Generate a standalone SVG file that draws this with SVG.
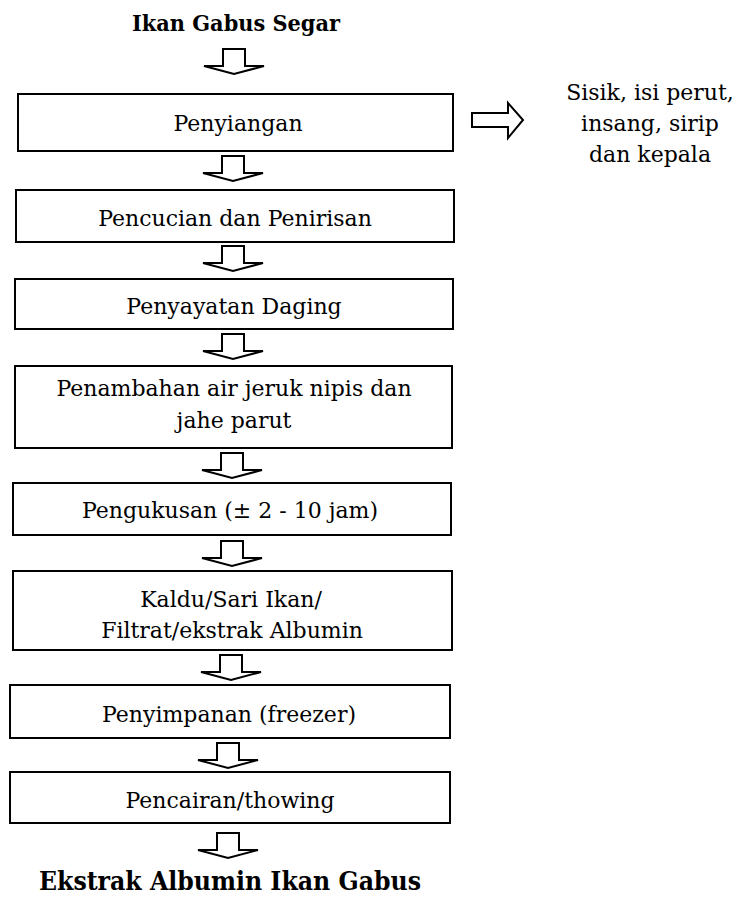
<svg xmlns="http://www.w3.org/2000/svg" width="739" height="904" viewBox="0 0 739 904">
<defs>
<style>
.box{fill:#fff;stroke:#000;stroke-width:2}
.arr{fill:#fff;stroke:#000;stroke-width:2;stroke-linejoin:miter}
.t{font-family:"DejaVu Serif","Liberation Serif",serif;font-size:22px;fill:#000;text-anchor:middle}
.b{font-family:"DejaVu Serif","Liberation Serif",serif;font-weight:bold;fill:#000;text-anchor:middle}
</style>
<path id="down" d="M-11,0 H11 V17 H30 L0,25 L-30,17 H-11 Z"/>
</defs>
<rect width="739" height="904" fill="#fff"/>
<g id="start"><text class="b" x="236" y="31" font-size="22" textLength="208" lengthAdjust="spacingAndGlyphs">Ikan Gabus Segar</text></g>
<g id="n1"><rect class="box" x="18" y="94" width="435" height="57"/><text class="t" x="238" y="131">Penyiangan</text></g>
<g id="waste"><text class="t" x="650" y="100">Sisik, isi perut,</text><text class="t" x="650" y="131">insang, sirip</text><text class="t" x="650" y="162">dan kepala</text></g>
<g id="n2"><rect class="box" x="16" y="190" width="438" height="52"/><text class="t" x="235" y="226">Pencucian dan Penirisan</text></g>
<g id="n3"><rect class="box" x="15" y="279" width="438" height="50"/><text class="t" x="234" y="314">Penyayatan Daging</text></g>
<g id="n4"><rect class="box" x="15" y="366" width="437" height="82"/><text class="t" x="234" y="396">Penambahan air jeruk nipis dan</text><text class="t" x="234" y="428">jahe parut</text></g>
<g id="n5"><rect class="box" x="13" y="483" width="438" height="52"/><text class="t" x="230" y="518">Pengukusan (± 2 - 10 jam)</text></g>
<g id="n6"><rect class="box" x="13" y="571" width="439" height="79"/><text class="t" x="231" y="607">Kaldu/Sari Ikan/</text><text class="t" x="232" y="638">Filtrat/ekstrak Albumin</text></g>
<g id="n7"><rect class="box" x="10" y="685" width="440" height="53"/><text class="t" x="229" y="722">Penyimpanan (freezer)</text></g>
<g id="n8"><rect class="box" x="10" y="772" width="440" height="51"/><text class="t" x="230" y="808">Pencairan/thowing</text></g>
<g id="end"><text class="b" x="230" y="890" font-size="26" textLength="382" lengthAdjust="spacingAndGlyphs">Ekstrak Albumin Ikan Gabus</text></g>
<g id="connectors">
<use href="#down" class="arr" x="234" y="49"/>
<use href="#down" class="arr" x="233" y="156"/>
<use href="#down" class="arr" x="233" y="246"/>
<use href="#down" class="arr" x="233" y="334"/>
<use href="#down" class="arr" x="232" y="453"/>
<use href="#down" class="arr" x="232" y="541"/>
<use href="#down" class="arr" x="231" y="655"/>
<use href="#down" class="arr" x="228" y="743"/>
<use href="#down" class="arr" x="228" y="833"/>
<path class="arr" d="M472,113 H508 V103 L523,120 L508,138 V127 H472 Z"/>
</g>
</svg>
